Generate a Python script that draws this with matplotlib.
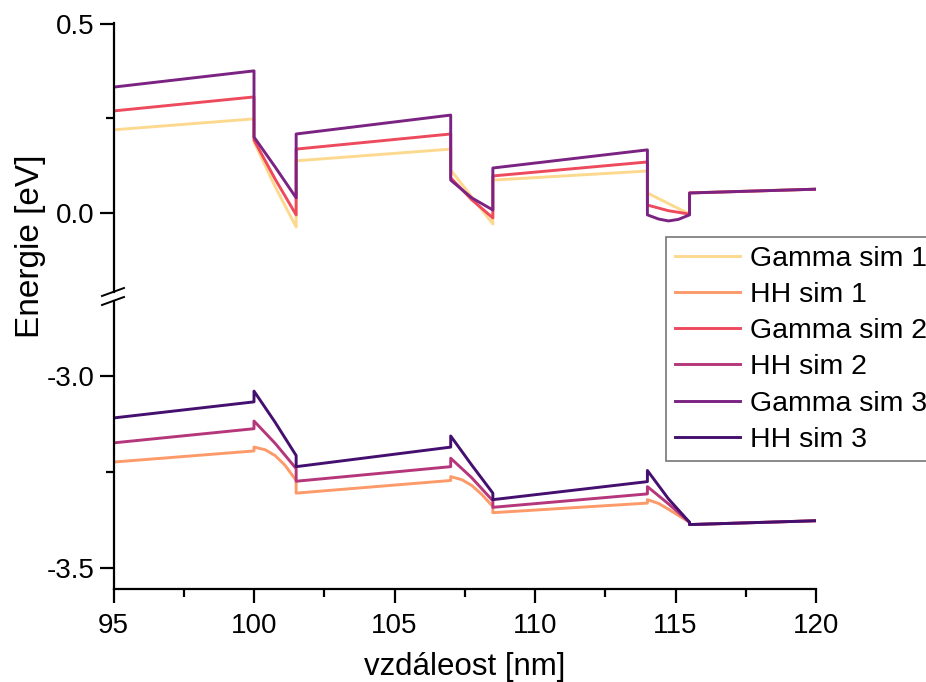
import matplotlib
matplotlib.use("Agg")
import matplotlib.pyplot as plt
from matplotlib.lines import Line2D
from matplotlib.ticker import MultipleLocator

plt.rcParams['font.family'] = ['Liberation Sans', 'DejaVu Sans']
plt.rcParams['axes.unicode_minus'] = False

labels = ['Gamma sim 1', 'HH sim 1', 'Gamma sim 2', 'HH sim 2', 'Gamma sim 3', 'HH sim 3']
colors = ['#fdd98f', '#fd9a6a', '#ee4a5d', '#b5367a', '#7b2382', '#440f6e']

# Gamma (conduction band) curves, upper panel
g1_x = [95, 100, 100, 100.75, 101.5, 101.5, 107, 107, 108.5, 108.5, 114, 114, 115.5, 115.5, 120]
g1_y = [0.220, 0.249, 0.188, 0.070, -0.037, 0.138, 0.169, 0.114, -0.029, 0.087, 0.111, 0.053, -0.003, 0.053, 0.063]

g2_x = [95, 100, 100, 100.75, 101.5, 101.5, 107, 107, 107.75, 108.5, 108.5, 114, 114, 114.75, 115.5, 115.5, 120]
g2_y = [0.270, 0.307, 0.193, 0.090, -0.005, 0.169, 0.209, 0.093, 0.035, -0.013, 0.098, 0.135, 0.021, 0.006, -0.003, 0.053, 0.063]

g3_x = [95, 100, 100, 100.75, 101.5, 101.5, 107, 107, 107.75, 108.5, 108.5, 114, 114, 114.4, 114.75, 115.1, 115.5, 115.5, 120]
g3_y = [0.333, 0.376, 0.201, 0.122, 0.040, 0.209, 0.259, 0.087, 0.040, 0.008, 0.119, 0.167, -0.005, -0.016, -0.021, -0.017, -0.005, 0.053, 0.063]

# HH (valence band) curves, lower panel
h1_x = [95, 100, 100, 100.4, 100.75, 101.1, 101.5, 101.5, 107, 107, 107.4, 107.75, 108.1, 108.5, 108.5,
        114, 114, 114.4, 114.75, 115.1, 115.5, 115.5, 120]
h1_y = [-3.224, -3.195, -3.185, -3.192, -3.207, -3.232, -3.272, -3.305, -3.272, -3.262, -3.270, -3.285, -3.308,
        -3.340, -3.356, -3.331, -3.322, -3.332, -3.347, -3.363, -3.381, -3.387, -3.377]

h2_x = [95, 100, 100, 100.75, 101.5, 101.5, 107, 107, 107.75, 108.5, 108.5,
        114, 114, 114.75, 115.5, 115.5, 120]
h2_y = [-3.174, -3.137, -3.117, -3.175, -3.241, -3.274, -3.236, -3.214, -3.265, -3.325, -3.342,
        -3.307, -3.288, -3.333, -3.381, -3.387, -3.377]

h3_x = [95, 100, 100, 100.75, 101.5, 101.5, 107, 107, 107.75, 108.5, 108.5,
        114, 114, 114.75, 115.5, 115.5, 120]
h3_y = [-3.109, -3.067, -3.039, -3.120, -3.207, -3.236, -3.185, -3.156, -3.232, -3.305, -3.322,
        -3.275, -3.246, -3.320, -3.381, -3.387, -3.377]

fig = plt.figure(figsize=(9.26, 6.82), dpi=100)
W, H = 926, 682
left = 113.5 / W
width = (816 - 113.5) / W
ax1 = fig.add_axes([left, 1 - 292 / H, width, (292 - 23) / H])
ax2 = fig.add_axes([left, 1 - 589 / H, width, (589 - 301) / H])

lw = 2.1
series = [(g1_x, g1_y), (h1_x, h1_y), (g2_x, g2_y), (h2_x, h2_y), (g3_x, g3_y), (h3_x, h3_y)]
handles = []
for i, (xs, ys) in enumerate(series):
    target = ax1 if labels[i].startswith('Gamma') else ax2
    line, = target.plot(xs, ys, color=colors[i], lw=lw, label=labels[i])
    handles.append(line)

ax1.set_ylim(-0.209, 0.5026)
ax2.set_ylim(-3.555, -2.804)
for ax in (ax1, ax2):
    ax.set_xlim(95, 120)
    ax.spines['top'].set_visible(False)
    ax.spines['right'].set_visible(False)
    ax.spines['left'].set_linewidth(1.6)
    ax.spines['bottom'].set_linewidth(1.6)
    ax.tick_params(which='major', length=10, width=1.6, labelsize=20, direction='out')
    ax.tick_params(which='minor', length=6, width=1.6, direction='out')
    ax.xaxis.set_major_locator(MultipleLocator(5))
    ax.xaxis.set_minor_locator(MultipleLocator(2.5))
    ax.yaxis.set_minor_locator(MultipleLocator(0.25))
    ax.yaxis.set_major_locator(MultipleLocator(0.5))
    ax.patch.set_alpha(0)

ax1.spines['bottom'].set_visible(False)
ax1.tick_params(axis='x', which='both', bottom=False, labelbottom=False)
ax1.yaxis.set_major_formatter(plt.FuncFormatter(lambda v, p: '%.1f' % v))
ax2.yaxis.set_major_formatter(plt.FuncFormatter(lambda v, p: '%.1f' % v))
ax2.tick_params(axis='x', pad=7)

ax2.set_xlabel('vzdáleost [nm]', fontsize=22.5, labelpad=10)
fig.text(30 / W, 1 - 246 / H, 'Energie [eV]', rotation=90,
         fontsize=24, va='center', ha='center')

# axis break marks
for yb in (292, 301):
    fig.add_artist(Line2D([102 / W, 124 / W], [1 - (yb + 4) / H, 1 - (yb - 4) / H],
                          color='black', lw=1.4))

leg = fig.legend(handles=handles, labels=labels, loc='upper left',
                 bbox_to_anchor=(666 / W, 1 - 237 / H), fontsize=20.5,
                 frameon=True, fancybox=False, handlelength=2.3,
                 handletextpad=0.35, labelspacing=0.36, borderpad=0.3,
                 borderaxespad=0)
leg.get_frame().set_edgecolor('#555555')
leg.get_frame().set_linewidth(1.2)

fig.savefig('out.png', dpi=100)
